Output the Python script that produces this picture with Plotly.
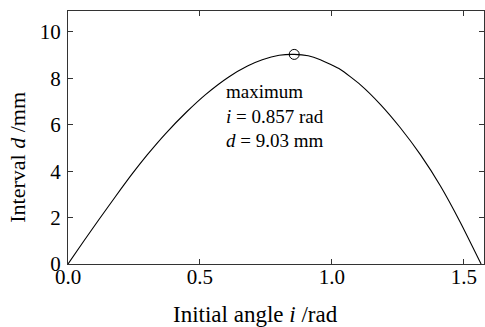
import plotly.graph_objects as go

# Data
angle_i = [0, 0.06, 0.12, 0.18, 0.243, 0.30, 0.369, 0.45, 0.521, 0.609, 0.68, 0.736, 0.80,
           0.857, 0.91, 0.956, 1.032, 1.108, 1.184, 1.259, 1.335, 1.411, 1.487, 1.565]
interval_d = [0, 0.99, 1.96, 2.91, 3.88, 4.70, 5.61, 6.56, 7.30, 8.06, 8.53, 8.80, 8.99,
              9.03, 8.97, 8.80, 8.38, 7.72, 6.87, 5.87, 4.71, 3.36, 1.78, 0]
max_i = [0.857]
max_d = [9.03]
x_ticks = [0.0, 0.5, 1.0, 1.5]
x_tick_text = ["0.0", "0.5", "1.0", "1.5"]
y_ticks = [0, 2, 4, 6, 8, 10]
note_text = "maximum<br><i>i</i> = 0.857 rad<br><i>d</i> = 9.03 mm"

FONT = "Liberation Serif"

fig = go.Figure()
fig.add_trace(go.Scatter(
    x=angle_i, y=interval_d, mode="lines",
    line=dict(color="black", width=1.1, shape="spline", smoothing=0.5),
    showlegend=False, hoverinfo="skip"))
fig.add_trace(go.Scatter(
    x=max_i, y=max_d, mode="markers",
    marker=dict(symbol="circle-open", size=10, color="black", line=dict(width=1)),
    showlegend=False, hoverinfo="skip"))

fig.add_annotation(
    x=max_i[0], y=max_d[0], xref="x", yref="y",
    text=note_text, showarrow=False, xanchor="left", yanchor="middle", align="left",
    xshift=-70, yshift=-62,
    font=dict(family=FONT, size=19, color="black"))

# axis titles as annotations (positioned as in the reference)
fig.add_annotation(
    x=0.45, y=0, xref="paper", yref="paper", yanchor="top", xanchor="center",
    yshift=-36, text="Initial angle <i>i</i> /rad", showarrow=False,
    font=dict(family=FONT, size=23, color="black"))
fig.add_annotation(
    x=0, y=0.42, xref="paper", yref="paper", xanchor="center", yanchor="middle",
    xshift=-50, text="Interval <i>d</i> /mm", textangle=-90, showarrow=False,
    font=dict(family=FONT, size=22, color="black"))

axis_common = dict(
    showline=True, linecolor="#333", linewidth=1.3, mirror="ticks",
    ticks="inside", ticklen=5, tickwidth=1.3, tickcolor="#333",
    showgrid=False, zeroline=False,
    tickfont=dict(family=FONT, size=21, color="black"))

fig.update_xaxes(range=[0, 1.576], tickvals=x_ticks, ticktext=x_tick_text,
                 ticklabelstandoff=-6, **axis_common)
fig.update_yaxes(range=[0, 10.9], tickvals=y_ticks, ticklabelstandoff=2, **axis_common)

fig.update_layout(
    width=485, height=327,
    margin=dict(l=68, r=1, t=11, b=63),
    paper_bgcolor="white", plot_bgcolor="white")

fig.write_html("out.html")
